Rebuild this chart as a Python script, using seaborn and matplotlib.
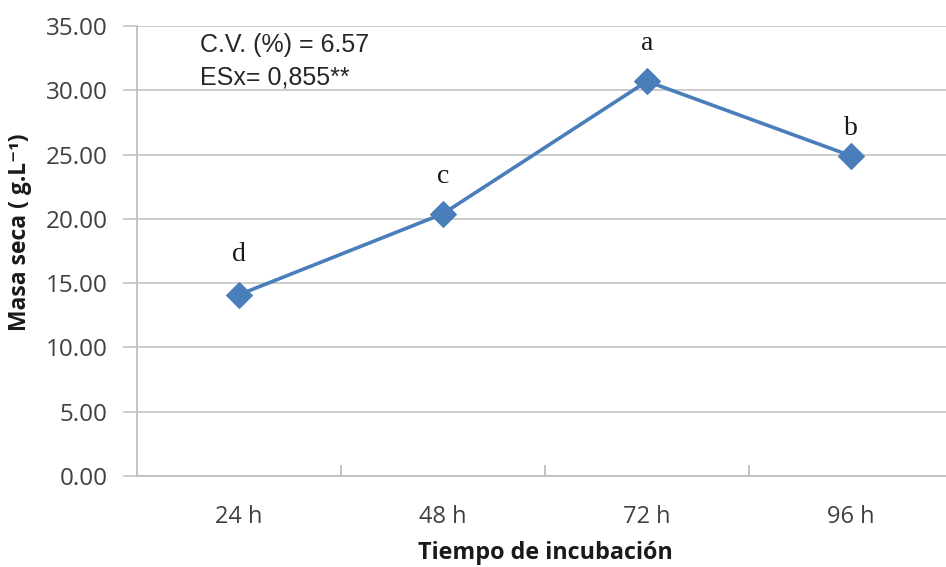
import matplotlib
matplotlib.use("Agg")
import matplotlib.pyplot as plt
import seaborn as sns
import pandas as pd

categories = ["24 h", "48 h", "72 h", "96 h"]
masa_seca = [14.1, 20.4, 30.7, 24.9]
letters = ["d", "c", "a", "b"]
letter_offsets = [29, 27, 27, 20]
yticks = [0, 5, 10, 15, 20, 25, 30, 35]

sns.set_theme(style="white")
plt.rcParams["font.family"] = ["Open Sans", "DejaVu Sans"]

df = pd.DataFrame({"Tiempo": categories, "Masa": masa_seca})

fig = plt.figure(figsize=(9.46, 5.67), dpi=100)
ax = fig.add_axes([137 / 946, 91 / 567, 816 / 946, 450 / 567])

sns.lineplot(data=df, x="Tiempo", y="Masa", ax=ax, color="#4A7EBB",
             linewidth=2.6, marker="D", markersize=13, markeredgecolor="#4A7EBB",
             sort=False)

ax.set_xlabel("")
ax.set_ylabel("")
ax.set_xlim(-0.5, 3.5)
ax.set_ylim(0, 35)
ax.set_yticks(yticks)
ax.set_yticklabels([f"{v:.2f}" for v in yticks], fontsize=17.5, color="#404040")
ax.set_xticks(range(len(categories)))
ax.set_xticklabels(categories, fontsize=17, color="#404040")
ax.grid(axis="y", color="#c8c8c8", linewidth=1.3)
ax.set_axisbelow(True)

for s in ["top", "right"]:
    ax.spines[s].set_visible(False)
for s in ["left", "bottom"]:
    ax.spines[s].set_color("#bfbfbf")
    ax.spines[s].set_linewidth(1.3)

ax.tick_params(axis="y", which="major", length=10, width=1.3, color="#c8c8c8",
               direction="out", pad=11, left=True)
ax.tick_params(axis="x", which="major", length=0, pad=21)
ax.set_xticks([0.5, 1.5, 2.5], minor=True)
ax.tick_params(axis="x", which="minor", length=8, width=1.3, color="#bfbfbf",
               direction="in", bottom=True)

for i, (v, l, off) in enumerate(zip(masa_seca, letters, letter_offsets)):
    ax.annotate(l, (i, v), xytext=(0, off), textcoords="offset points",
                ha="center", va="center", fontsize=20, family="Liberation Serif",
                color="#1a1a1a")

ax.text(63 / 816, 1 - 19 / 450, "C.V. (%) = 6.57", transform=ax.transAxes, fontsize=18,
        family="Liberation Sans", color="#262626", va="center", ha="left")
ax.text(63 / 816, 1 - 51 / 450, "ESx= 0,855**", transform=ax.transAxes, fontsize=18,
        family="Liberation Sans", color="#262626", va="center", ha="left")

fig.text(20 / 946, 1 - 232 / 567, "Masa seca ( g.L⁻¹)", rotation=90, ha="center",
         va="center", fontsize=16.5, fontweight="bold", color="#1a1a1a")
fig.text(545 / 946, 1 - 553 / 567, "Tiempo de incubación", ha="center",
         va="center", fontsize=16.8, fontweight="bold", color="#1a1a1a")

fig.savefig("out.png", dpi=100)
